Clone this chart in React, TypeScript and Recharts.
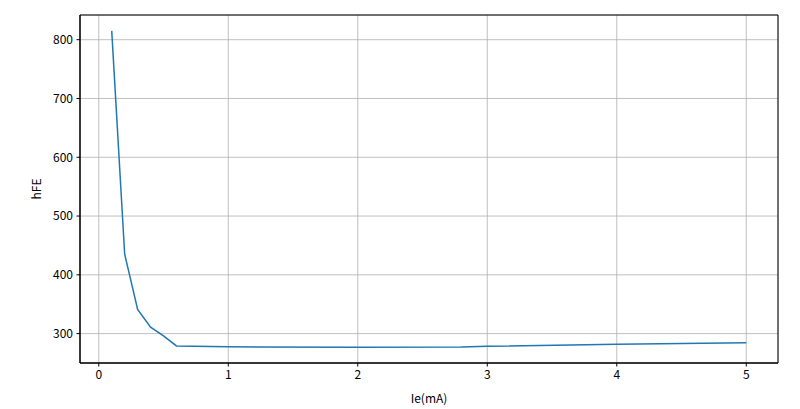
import React from 'react';
import {
  LineChart,
  Line,
  XAxis,
  YAxis,
  CartesianGrid,
  ReferenceArea,
} from 'recharts';

// Ie (mA) vs hFE
const ieValues = [0.1, 0.2, 0.3, 0.4, 0.5, 0.6, 1, 2, 2.8, 3, 4, 5];
const hfeValues = [815, 435, 341, 311, 296, 279, 277.5, 276.8, 277.2, 278.3, 281.7, 284.6];
const xTicks = [0, 1, 2, 3, 4, 5];
const yTicks = [300, 400, 500, 600, 700, 800];

const data = ieValues.map((ie, i) => ({ ie, hfe: hfeValues[i] }));

const font = '"Noto Sans CJK SC", "DejaVu Sans", sans-serif';
const X_DOMAIN: [number, number] = [-0.145, 5.245];
const Y_DOMAIN: [number, number] = [250, 842];

const App: React.FC = () => {
  return (
    <div style={{ position: 'absolute', left: 0, top: 0, width: 800, height: 409, background: '#fff' }}>
      <LineChart
        width={800}
        height={409}
        data={data}
        margin={{ top: 15, right: 22, bottom: 0, left: 0 }}
        style={{ fontFamily: font }}
      >
        <CartesianGrid stroke="#b0b0b0" strokeWidth={0.8} />
        <XAxis
          dataKey="ie"
          type="number"
          domain={X_DOMAIN}
          ticks={xTicks}
          allowDataOverflow
          height={46}
          tickSize={3.5}
          tickMargin={4}
          stroke="#000"
          tick={{ fill: '#000', fontSize: 12 }}
          label={{ value: 'Ie(mA)', position: 'insideBottom', offset: 6, fill: '#000', fontSize: 12 }}
        />
        <YAxis
          type="number"
          domain={Y_DOMAIN}
          ticks={yTicks}
          allowDataOverflow
          width={80}
          tickSize={3.5}
          tickMargin={3.5}
          stroke="#000"
          tick={{ fill: '#000', fontSize: 12 }}
          label={{ value: 'hFE', angle: -90, position: 'center', dx: -3, fill: '#000', fontSize: 12 }}
        />
        <ReferenceArea
          x1={X_DOMAIN[0]}
          x2={X_DOMAIN[1]}
          y1={Y_DOMAIN[0]}
          y2={Y_DOMAIN[1]}
          fill="none"
          stroke="#000"
          strokeWidth={1}
          fillOpacity={0}
        />
        <Line
          type="linear"
          dataKey="hfe"
          stroke="#1f77b4"
          strokeWidth={1.5}
          dot={false}
          isAnimationActive={false}
        />
      </LineChart>
    </div>
  );
};

export default App;
